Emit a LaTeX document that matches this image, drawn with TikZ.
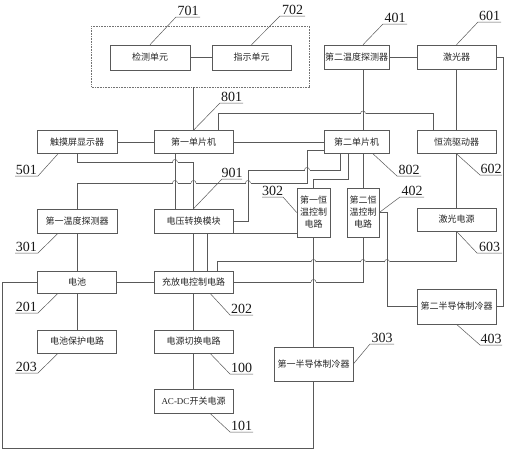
\documentclass[tikz,border=0pt]{standalone}
\usepackage{fontspec}
\setmainfont{Liberation Serif}
\newfontfamily\cjk{Noto Sans CJK SC}
\usepackage{tikz}
\usetikzlibrary{fit}
\tikzset{
  unit/.style={draw=black!65, line width=0.6pt, align=center, minimum width=79, minimum height=23, inner sep=1pt, text=black!85, font=\fontsize{9}{12}\selectfont\cjk},
  slim/.style={unit, minimum width=33, minimum height=49},
  group/.style={draw=black!55, densely dotted, line width=0.6pt},
  wire/.style={draw=black!65, line width=0.5pt},
  lead/.style={draw=black!65, line width=0.5pt},
  num/.style={above, inner sep=1pt, text=black!90, font=\fontsize{14}{14}\selectfont}
}

\begin{document}
\begin{tikzpicture}[x=1pt, y=-1pt]
        \useasboundingbox (0,0) rectangle (507,450);
        % boxes
        \node[unit, minimum width=80, minimum height=25] (det) at (150,57.5) {检测单元};
        \node[unit, minimum height=25] (ind) at (251.5,57.5) {指示单元};
        \node[group, fit=(det)(ind), inner xsep=18, inner ysep=17.5, yshift=1] (grp) {};
        \node[unit, minimum width=65, minimum height=24] (probe2) at (356.5,57) {第二温度探测器};
        \node[unit, minimum height=24] (laser) at (456.5,57) {激光器};
        \node[unit, minimum width=80] (touch) at (77,142) {触摸屏显示器};
        \node[unit] (mcu1) at (193.5,142) {第一单片机};
        \node[unit, minimum width=65] (mcu2) at (356.5,142) {第二单片机};
        \node[unit] (drv) at (456.5,142) {恒流驱动器};
        \node[unit, minimum width=80, minimum height=24] (probe1) at (77,221) {第一温度探测器};
        \node[unit, minimum height=24] (conv) at (193.5,221) {电压转换模块};
        \node[slim] (tc1) at (313.5,212.5) {第一恒\\温控制\\电路};
        \node[slim, minimum width=32] (tc2) at (363,212.5) {第二恒\\温控制\\电路};
        \node[unit] (lps) at (456.5,219.5) {激光电源};
        \node[unit, minimum height=22] (bat) at (77,282) {电池};
        \node[unit, minimum height=22] (chg) at (193.5,282) {充放电控制电路};
        \node[unit, minimum height=35] (tec2) at (456.5,306.5) {第二半导体制冷器};
        \node[unit] (prot) at (77,341.5) {电池保护电路};
        \node[unit] (psw) at (193.5,341.5) {电源切换电路};
        \node[unit, minimum height=34] (tec1) at (313.5,364) {第一半导体制冷器};
        \node[unit, minimum height=24] (acdc) at (193.5,401) {{\rmfamily AC-DC}开关电源};
        % wires
        \draw[wire] (det) -- (ind);
        \draw[wire] (grp.south -| mcu1.north) -- (mcu1.north);
        \draw[wire] (probe2) -- (laser);
        \draw[wire] (probe2.south -| tc2.north) -- (mcu2.north -| tc2.north);
        \draw[wire] ([xshift=24.5]mcu1.north) -- ++(0,-17) -| ([xshift=-23.5]drv.north);
        \draw[wire] (laser) -- (drv);
        \draw[wire] (laser.east) -- ++(7,0) |- (tec2.east);
        \draw[wire] (touch) -- (mcu1);
        \draw[wire] (mcu1) -- (mcu2);
        \draw[wire] (drv) -- (lps);
        \draw[wire] (touch.south) -- ++(0,8.5) -| (conv.north);
        \draw[wire] ([xshift=-18.5]mcu1.south) -- ([xshift=-18.5]conv.north);
        \draw[wire] (probe1.north) |- (307,183) |- ([yshift=-8]mcu2.west);
        \draw[wire] ([xshift=-16.5]mcu2.south) |- (248,170) |- (conv.east);
        \draw[wire] ([xshift=-8.5]mcu2.south) -- ++(0,25) -| (tc1.north);
        \draw[wire] (mcu2.south -| tc2.north) -- (tc2.north);
        \draw[wire] (conv) -- (chg);
        \draw[wire] ([xshift=13.5]chg.north) |- ([yshift=-21]tc1.west);
        \draw[wire] ([xshift=23.5]chg.north) -- ++(0,-9) -| (lps.south);
        \draw[wire] (chg.east) -| (tc2.south);
        \draw[wire] (tc1) -- (tec1);
        \draw[wire] (tc2.east) -- ++(8,0) |- (tec2.west);
        \draw[wire] (bat.west) -- ++(-35,0) -- ++(0,166) -| (tec1.south);
        \draw[wire] (bat) -- (chg);
        \draw[wire] (probe1) -- (bat);
        \draw[wire] (bat) -- (prot);
        \draw[wire] (chg) -- (psw);
        \draw[wire] (psw) -- (acdc);
        % crossings
        \foreach \hx/\hy in {363/113.5, 175/162, 175/183, 193.5/183, 248/183, 307/170, 313.5/262, 363/262, 387/262, 313.5/282}{
          \fill[white] (\hx-2.5,\hy-1) rectangle (\hx+2.5,\hy+1);
          \draw[wire] (\hx-2.5,\hy) .. controls (\hx-2.5,\hy-3.3) and (\hx+2.5,\hy-3.3) .. (\hx+2.5,\hy);
          \draw[wire] (\hx,\hy-3) -- (\hx,\hy+3);
        }
        % reference numbers
        \draw[lead] (det.north) -- (176,17) -- node[num] {701} (200,17);
        \draw[lead] (ind.north) -- (280,16) -- node[num] {702} (305,16);
        \draw[lead] (probe2.north -| tc2.north) -- (383,24) -- node[num] {401} (407,24);
        \draw[lead] (laser.north) -- (478,22) -- node[num] {601} (501,22);
        \draw[lead] (mcu1.north) -- (220,103) -- node[num] {801} (243,103);
        \draw[lead] ([xshift=-19]touch.south) -- (38,176) -- node[num] {501} (15,176);
        \draw[lead] ([xshift=16.5]mcu2.south) -- (397,176) -- node[num] {802} (421,176);
        \draw[lead] (drv.south) -- (480,175) -- node[num] {602} (502,175);
        \draw[lead] ([xshift=-19]probe1.south) -- (38,253) -- node[num] {301} (15,253);
        \draw[lead] (conv.north) -- (222,179) -- node[num] {901} (242,179);
        \draw[lead] (tc1.west) -- (283,197) -- node[num] {302} (262,197);
        \draw[lead] (tc2.east) -- (400,197) -- node[num] {402} (424,197);
        \draw[lead] (lps.south) -- (477,253) -- node[num] {603} (502,253);
        \draw[lead] ([xshift=-19]bat.south) -- (38,313) -- node[num] {201} (15,313);
        \draw[lead] ([xshift=16.5]chg.south) -- (230,315) -- node[num] {202} (253,315);
        \draw[lead] ([xshift=-19]prot.south) -- (38,373) -- node[num] {203} (15,373);
        \draw[lead] ([xshift=16.5]psw.south) -- (230,374) -- node[num] {100} (253,374);
        \draw[lead] ([xshift=16.5]acdc.south) -- (230,432) -- node[num] {101} (253,432);
        \draw[lead] (tec1.east) -- (370,344) -- node[num] {303} (394,344);
        \draw[lead] (tec2.south) -- (480,345) -- node[num] {403} (502,345);
      \end{tikzpicture}
\end{document}
